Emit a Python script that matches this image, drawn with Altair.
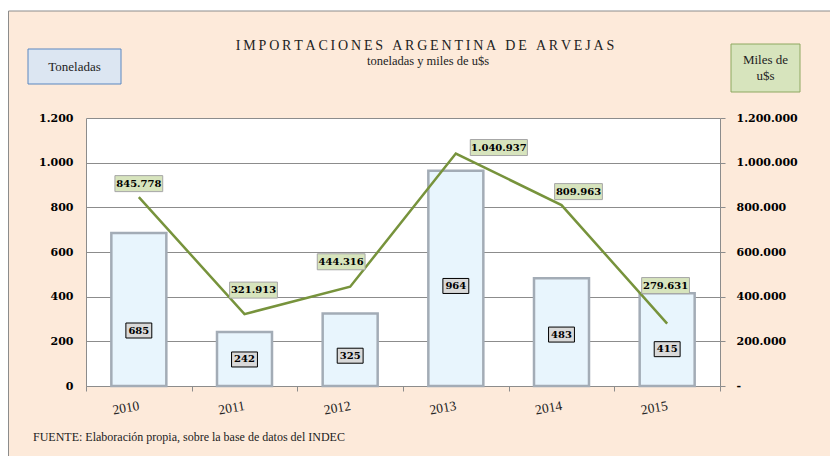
import altair as alt
import pandas as pd

# ---------------- data ----------------
years = ["2010", "2011", "2012", "2013", "2014", "2015"]
toneladas = [685, 242, 325, 964, 483, 415]
miles_usd = [845778, 321913, 444316, 1040937, 809963, 279631]

title_text = "IMPORTACIONES ARGENTINA DE ARVEJAS"
subtitle_text = "toneladas y miles de u$s"
left_box_text = "Toneladas"
right_box_text = "Miles de\nu$s"
footer_text = "FUENTE: Elaboración propia, sobre la base de datos del INDEC"

# ---------------- layout (pixels) ----------------
W, H = 634, 268
Y_MAX_T = 1200
Y_MAX_M = 1200000
BAR_PX = 55
bar_label_shift = [21, 0.5, 6, 7.6, 2.5, 9.5]           # px below bar middle
line_label_shift = [(0, -13.5), (9, -24), (-9, -25), (43, -6), (17, -13.5), (-1.6, -38)]

BG = "#FDEADA"
GRID = "#8C8C8C"
LINE = "#77933C"
NUMFONT = "DejaVu Serif"
SERIF = "Liberation Serif"


def fmt(v):
    return f"{v:,}".replace(",", ".")


def box_w(s):
    return sum(6.3 if ch.isdigit() else 3 for ch in s) + 7


step = W / len(years)
ut = Y_MAX_T / H
um = Y_MAX_M / H
rows = []
for i, (yr, t, m) in enumerate(zip(years, toneladas, miles_usd)):
    c = i + 0.5
    tl, ml = fmt(t), fmt(m)
    tw, mw = box_w(tl), box_w(ml)
    ty = t / 2 - bar_label_shift[i] * ut
    mdx, mdy = line_label_shift[i]
    mx = c + mdx / step
    my = m - mdy * um
    rows.append(dict(
        year=yr, c=c, x0=c - BAR_PX / 2 / step, x1=c + BAR_PX / 2 / step,
        t=t, m=m, zero=0, tl=tl, ml=ml,
        ty=ty, ty0=ty - 7.5 * ut, ty1=ty + 7.5 * ut,
        tx0=c - tw / 2 / step, tx1=c + tw / 2 / step,
        mx=mx, my=my, my0=my - 8 * um, my1=my + 8 * um,
        mx0=mx - mw / 2 / step, mx1=mx + mw / 2 / step,
    ))
df = pd.DataFrame(rows)

xs = alt.Scale(domain=[0, len(years)], nice=False, zero=False)
ys_t = alt.Scale(domain=[0, Y_MAX_T], nice=False)
ys_m = alt.Scale(domain=[0, Y_MAX_M], nice=False)

ax_x = alt.Axis(tickCount=len(years), labels=False, ticks=True, tickSize=5, tickColor=GRID,
                domainColor=GRID, grid=False, title=None)
ax_t = alt.Axis(tickCount=6, format=",.0f", grid=True, gridColor=GRID, domainColor=GRID,
                ticks=False, labelPadding=13, title=None)
ax_m = alt.Axis(orient="right", tickCount=6, format=",.0f",
                labelExpr="datum.value == 0 ? '-' : datum.label", grid=False,
                domainColor=GRID, ticks=True, tickSize=5, tickColor=GRID,
                labelPadding=11, title=None)

base = alt.Chart(df)
one = alt.Chart(pd.DataFrame({"k": [0]}))

# ---------------- decorations ----------------
white_strip = one.mark_rect(fill="white").encode(
    x=alt.value(-80), x2=alt.value(760), y=alt.value(-112), y2=alt.value(-107))
outer = one.mark_rect(fill=BG, fillOpacity=0, stroke="#8C8C8C", strokeWidth=1).encode(
    x=alt.value(-77.5), x2=alt.value(760), y=alt.value(-107), y2=alt.value(400))
title = one.mark_text(font=SERIF, fontSize=14, color="#222222").encode(
    x=alt.value(339), y=alt.value(-72), text=alt.value("\u2009".join(title_text)))
subtitle = one.mark_text(font=SERIF, fontSize=12.5, color="#222222").encode(
    x=alt.value(342), y=alt.value(-57), text=alt.value(subtitle_text))
lbox = one.mark_rect(fill="#DCE6F2", stroke="#5B87C0", strokeWidth=1).encode(
    x=alt.value(-58), x2=alt.value(35), y=alt.value(-69), y2=alt.value(-34))
ltext = one.mark_text(font=SERIF, fontSize=13, color="#222222").encode(
    x=alt.value(-11.5), y=alt.value(-51.5), text=alt.value(left_box_text))
rbox = one.mark_rect(fill="#D7E4BD", stroke="#8EA861", strokeWidth=1).encode(
    x=alt.value(645), x2=alt.value(714), y=alt.value(-74), y2=alt.value(-26))
rtext = one.mark_text(font=SERIF, fontSize=13, color="#222222", lineBreak="\n",
                      lineHeight=16).encode(
    x=alt.value(679.5), y=alt.value(-58), text=alt.value(right_box_text))
footer = one.mark_text(font=SERIF, fontSize=12, align="left", color="#222222").encode(
    x=alt.value(-53), y=alt.value(319), text=alt.value(footer_text))

# ---------------- tonnes (left axis) ----------------
bars = base.mark_bar(fill="#E8F5FD", stroke="#A3ACB6", strokeWidth=2.5).encode(
    x=alt.X("x0:Q", scale=xs, axis=ax_x), x2="x1:Q",
    y=alt.Y("t:Q", scale=ys_t, axis=ax_t), y2="zero:Q",
)
tbox = base.mark_rect(fill="#D9D9D9", stroke="black", strokeWidth=1).encode(
    x=alt.X("tx0:Q", scale=xs, axis=ax_x), x2="tx1:Q",
    y=alt.Y("ty0:Q", scale=ys_t, axis=ax_t), y2="ty1:Q")
ttext = base.mark_text(font=NUMFONT, fontSize=10, fontWeight="bold", color="black").encode(
    x=alt.X("c:Q", scale=xs, axis=ax_x), y=alt.Y("ty:Q", scale=ys_t, axis=ax_t), text="tl:N")
ylabels = base.mark_text(font=SERIF, fontSize=13.5, angle=350, dx=-13, color="#222222").encode(
    x=alt.X("c:Q", scale=xs, axis=ax_x), y=alt.value(H + 20), text="year:N")

group_t = alt.layer(white_strip, outer, title, subtitle, lbox, ltext, rbox, rtext, footer,
                    bars, tbox, ttext, ylabels)

# ---------------- US$ (right axis) ----------------
line = base.mark_line(color=LINE, strokeWidth=2.5).encode(
    x=alt.X("c:Q", scale=xs, axis=ax_x),
    y=alt.Y("m:Q", scale=ys_m, axis=ax_m),
)
mbox = base.mark_rect(fill="#D7E4BD", stroke="#A6A6A6", strokeWidth=1).encode(
    x=alt.X("mx0:Q", scale=xs, axis=ax_x), x2="mx1:Q",
    y=alt.Y("my0:Q", scale=ys_m, axis=ax_m), y2="my1:Q")
mtext = base.mark_text(font=NUMFONT, fontSize=10, fontWeight="bold", color="black").encode(
    x=alt.X("mx:Q", scale=xs, axis=ax_x), y=alt.Y("my:Q", scale=ys_m, axis=ax_m), text="ml:N")

group_m = alt.layer(line, mbox, mtext)

chart = alt.layer(group_t, group_m).resolve_scale(y="independent").properties(
    width=W, height=H,
    padding={"left": 78, "top": 110, "right": 110, "bottom": 70},
    autosize=alt.AutoSizeParams(type="none"),
).configure(
    background=BG,
    locale={"number": {"decimal": ",", "thousands": ".", "grouping": [3], "currency": ["$", ""]}},
).configure_view(fill="white", stroke=None).configure_axis(
    labelFont=NUMFONT, labelFontSize=11, labelFontWeight="bold", labelColor="black",
)

chart.save("out.html", embed_options={"renderer": "svg", "actions": False})
